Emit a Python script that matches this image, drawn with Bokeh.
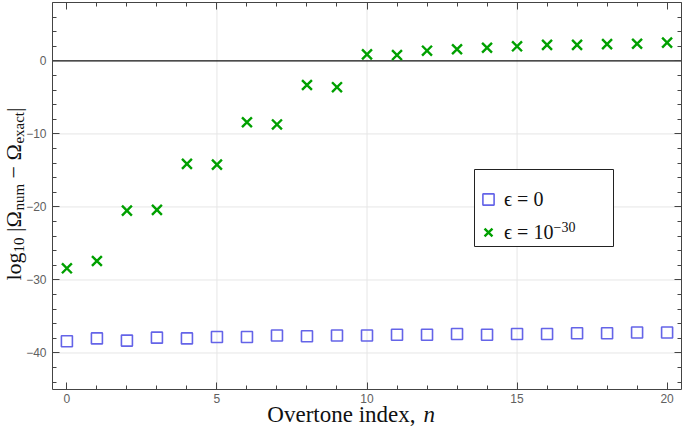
import math
from bokeh.plotting import figure
from bokeh.models import (Range1d, LinearAxis, SingleIntervalTicker, Label, Legend, LegendItem,
                          BoxAnnotation)
from bokeh.embed import file_html
from bokeh.resources import INLINE

# ---- data ----
overtone_n = list(range(21))
err_eps0 = [-38.4, -38.0, -38.3, -37.9, -38.0, -37.8, -37.8, -37.6, -37.7, -37.6, -37.6,
            -37.5, -37.5, -37.4, -37.5, -37.4, -37.4, -37.3, -37.3, -37.2, -37.2]
err_eps30 = [-28.4, -27.4, -20.5, -20.4, -14.1, -14.2, -8.4, -8.7, -3.3, -3.6, 0.9,
             0.8, 1.4, 1.6, 1.8, 2.0, 2.2, 2.2, 2.3, 2.35, 2.5]
x_grid_ticks = [5, 10, 15]
y_grid_ticks = [-40, -30, -20, -10]
zero_level = [0]
legend_labels = ["ϵ = 0", "ϵ = 10"]
legend_exponent = "−30"
x_label_main = "Overtone index,"
x_label_var = "n"

# visible data window
X0, X1 = -0.48, 20.48
Y0, Y1 = -45.0, 8.0

# canvas geometry (px)
W, H = 683, 427
VL, VR, VT, VB = 52, 681, 2, 389
sx = (VR - VL) / (X1 - X0)
sy = (VB - VT) / (Y1 - Y0)
SHIFT = 7   # observed offset of label baselines

FRAME = "#444444"
TICKC = "#606060"
TEXTC = "#111111"
SERIF = "Liberation Serif"

p = figure(width=W, height=H, output_backend="svg", toolbar_location=None,
           x_range=Range1d(X0 - VL / sx, X1 + (W - VR) / sx),
           y_range=Range1d(Y0 - (H - VB) / sy, Y1 + VT / sy),
           x_axis_location=None, y_axis_location=None,
           min_border_left=0, min_border_right=0, min_border_top=0, min_border_bottom=0)
p.outline_line_color = None
p.xgrid.visible = False
p.ygrid.visible = False
p.background_fill_color = "white"
p.border_fill_color = "white"


def make_axis(ticker, show_labels, standoff, loc, bounds):
    ax = LinearAxis(ticker=ticker, fixed_location=loc, bounds=bounds)
    ax.axis_line_color = FRAME
    ax.axis_line_width = 1
    ax.major_tick_line_color = FRAME
    ax.minor_tick_line_color = FRAME
    ax.major_tick_in = 7
    ax.major_tick_out = 0
    ax.minor_tick_in = 4
    ax.minor_tick_out = 0
    if show_labels:
        ax.major_label_text_font = "Liberation Sans"
        ax.major_label_text_font_size = "12px"
        ax.major_label_text_color = TICKC
        ax.major_label_standoff = standoff
    else:
        ax.major_label_text_alpha = 0
        ax.major_label_text_font_size = "1px"
        ax.major_label_standoff = 0
    return ax


xt = SingleIntervalTicker(interval=5, num_minor_ticks=5)
yt = SingleIntervalTicker(interval=10, num_minor_ticks=5)

# grid lines and zero line (under the markers)
p.segment(x0=x_grid_ticks, y0=[Y0] * len(x_grid_ticks), x1=x_grid_ticks, y1=[Y1] * len(x_grid_ticks),
          line_color="#e6e6e6", line_width=1)
p.segment(x0=[X0] * len(y_grid_ticks), y0=y_grid_ticks, x1=[X1] * len(y_grid_ticks), y1=y_grid_ticks,
          line_color="#e6e6e6", line_width=1)
p.segment(x0=[X0], y0=zero_level, x1=[X1], y1=zero_level, line_color="#111111", line_width=1.3)

r0 = p.scatter(overtone_n, err_eps0, marker="square", size=11, fill_color=None,
               line_color="#6464e8", line_width=1.6)
r1 = p.scatter(overtone_n, err_eps30, marker="x", size=14,
               line_color="#00a000", line_width=2.4)

p.add_layout(make_axis(xt, True, 4, Y0, (X0, X1)), "below")
p.add_layout(make_axis(xt, False, 0, Y1, (X0, X1)), "above")
p.add_layout(make_axis(yt, True, 6, X0, (Y0, Y1)), "left")
p.add_layout(make_axis(yt, False, 0, X1, (Y0, Y1)), "right")

# ---- legend ----
PAD, GW, GH, STAND, LW, SPC = 8, 28, 28, 2, 93, 5
LEG_W = 2 * PAD + GW + STAND + LW
LEG_H = 2 * PAD + 2 * GH + SPC
LEG_LEFT, LEG_BOTTOM = 474, H - 246
p.add_layout(BoxAnnotation(left=LEG_LEFT, right=LEG_LEFT + LEG_W, bottom=LEG_BOTTOM,
                           top=LEG_BOTTOM + LEG_H, left_units="screen", right_units="screen",
                           bottom_units="screen", top_units="screen",
                           fill_color="white", fill_alpha=1.0,
                           line_color="#222222", line_width=1, line_alpha=1.0))
legend = Legend(items=[LegendItem(label=legend_labels[0], renderers=[r0]),
                       LegendItem(label=legend_labels[1], renderers=[r1])],
                location=(LEG_LEFT, LEG_BOTTOM))
legend.border_line_color = None
legend.background_fill_alpha = 0
legend.label_text_font = SERIF
legend.label_text_font_size = "20px"
legend.label_text_color = TEXTC
legend.glyph_width = GW
legend.glyph_height = GH
legend.label_height = GH
legend.label_width = LW
legend.spacing = SPC
legend.padding = PAD
legend.margin = 0
legend.label_standoff = STAND
p.add_layout(legend, "center")
p.add_layout(Label(x=LEG_LEFT + PAD + GW + STAND + 41, y=H - 226, x_units="screen",
                   y_units="screen", text=legend_exponent, text_font=SERIF, text_font_size="14px",
                   text_color=TEXTC, text_align="left", text_baseline="alphabetic",
                   level="overlay"))

# ---- y axis label (composite, rotated) ----
EM = {"l": .278, "o": .5, "g": .5, "1": .5, "0": .5, "|": .2, "Ω": .768, "n": .5, "u": .5,
      "m": .778, "−": .564, "e": .444, "x": .5, "a": .444, "c": .444, "t": .278}
MAIN, SUB = 22, 15
pieces = [("log", MAIN, 0, 0), ("10", SUB, 1, 0), ("|Ω", MAIN, 0, .25 * MAIN),
          ("num", SUB, 1, 0), ("−", MAIN, 0, .25 * MAIN), ("Ω", MAIN, 0, .25 * MAIN),
          ("exact", SUB, 1, 0), ("|", MAIN, 0, 0)]
base_x = 21 - SHIFT - 1
pos = H - 280
for txt, fs, is_sub, gap in pieces:
    pos += gap
    p.add_layout(Label(x=base_x + (5 if is_sub else 0), y=pos, x_units="screen", y_units="screen",
                       text=txt, text_font=SERIF, text_font_size=f"{fs}px",
                       text_color=TEXTC, angle=math.pi / 2, text_align="left",
                       text_baseline="alphabetic"))
    pos += sum(EM.get(ch, .5) for ch in txt) * fs

# ---- x axis label (composite) ----
XSPLIT = 415
XL_Y = H - 421 + SHIFT
p.add_layout(Label(x=XSPLIT, y=XL_Y, x_units="screen", y_units="screen", text=x_label_main,
                   text_font=SERIF, text_font_size="23px", text_color=TEXTC,
                   text_align="right", text_baseline="alphabetic"))
p.add_layout(Label(x=XSPLIT + 8, y=XL_Y, x_units="screen", y_units="screen", text=x_label_var,
                   text_font=SERIF, text_font_style="italic", text_font_size="23px",
                   text_color=TEXTC, text_align="left", text_baseline="alphabetic"))

open("out.html", "w").write(file_html(p, INLINE))
